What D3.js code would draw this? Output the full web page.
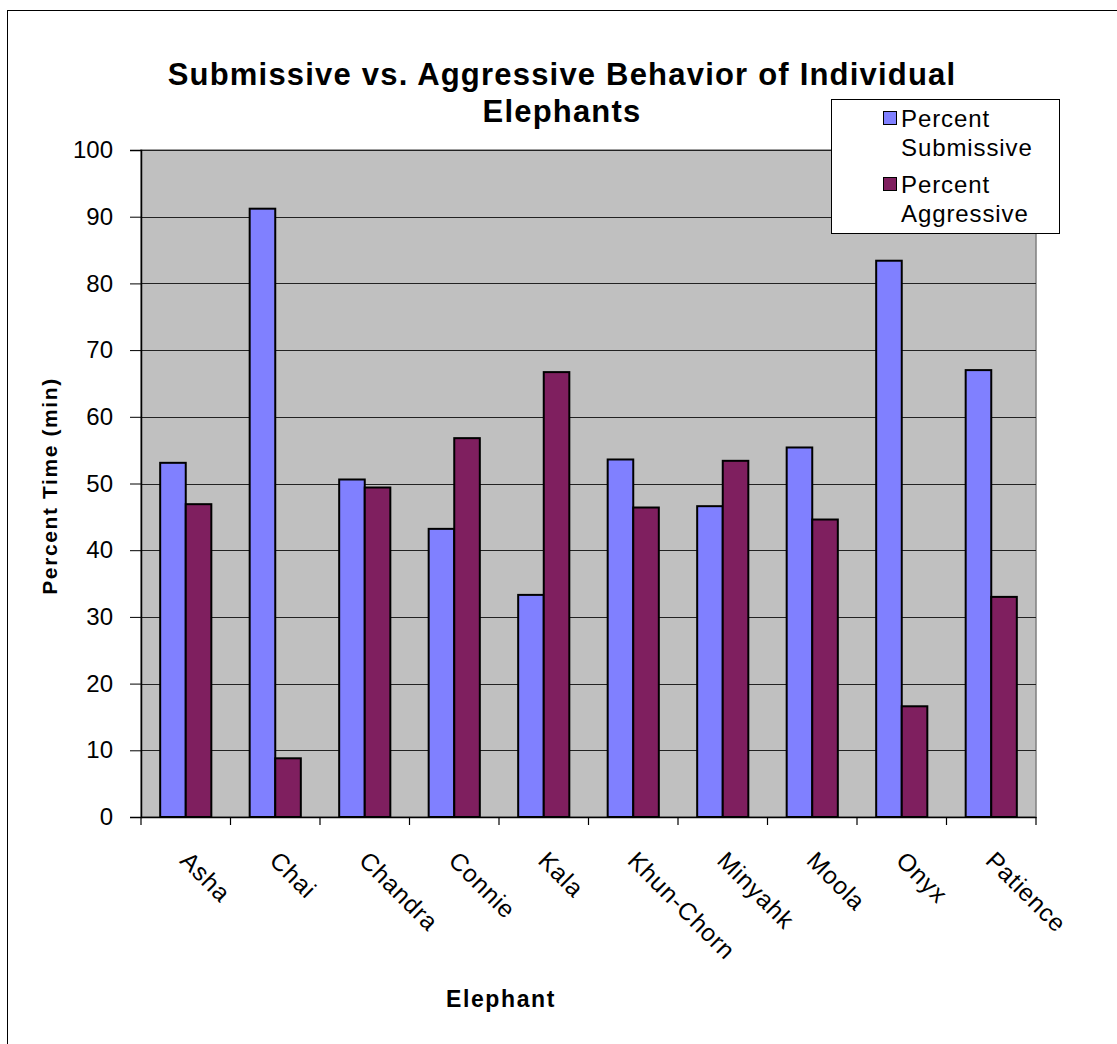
<!DOCTYPE html>
<html>
<head>
<meta charset="utf-8">
<script src="https://cdn.jsdelivr.net/npm/d3@7"></script>
<style>
  html, body { margin: 0; padding: 0; background: #fff; }
  svg { display: block; font-family: "Liberation Sans", Arial, sans-serif; }
</style>
</head>
<body>
<svg id="chart" width="1117" height="1044"></svg>
<script>
// Elephants observed and share of time in each behaviour
const elephants = ["Asha", "Chai", "Chandra", "Connie", "Kala", "Khun-Chorn", "Minyahk", "Moola", "Onyx", "Patience"];
const submissive = [53.1, 91.2, 50.6, 43.2, 33.3, 53.6, 46.6, 55.4, 83.4, 67.0];
const aggressive = [46.9, 8.8, 49.4, 56.8, 66.7, 46.4, 53.4, 44.6, 16.6, 33.0];
const seriesNames = ["Percent Submissive", "Percent Aggressive"];
const seriesColors = ["#8080FF", "#7F1F5F"];
const yTicks = [0, 10, 20, 30, 40, 50, 60, 70, 80, 90, 100];

const svg = d3.select("#chart");

// outer chart frame
svg.append("rect")
  .attr("x", 7.5).attr("y", 10.5)
  .attr("width", 1120).attr("height", 1045)
  .attr("fill", "#fff").attr("stroke", "#000").attr("stroke-width", 1);

const plot = { left: 141, right: 1036, top: 150, bottom: 817 };

const x = d3.scaleBand()
  .domain(elephants)
  .range([plot.left, plot.right])
  .paddingInner(0).paddingOuter(0);

// gap width 150%: two bars take 2/3.5 of the band
const barW = x.bandwidth() / 3.5;
const xs = d3.scaleBand().domain(seriesNames).range([0, 2 * barW]);

const y = d3.scaleLinear().domain([0, 100]).range([plot.bottom, plot.top]);

// plot background
svg.append("rect")
  .attr("x", plot.left).attr("y", plot.top)
  .attr("width", plot.right - plot.left).attr("height", plot.bottom - plot.top)
  .attr("fill", "#C0C0C0")
  .attr("stroke", "#808080").attr("stroke-width", 1.5);

// horizontal gridlines
svg.append("g")
  .selectAll("line")
  .data(yTicks.filter(d => d > 0))
  .join("line")
  .attr("x1", plot.left).attr("x2", plot.right)
  .attr("y1", d => Math.round(y(d)) + 0.5).attr("y2", d => Math.round(y(d)) + 0.5)
  .attr("stroke", "#222").attr("stroke-width", 1);

// bars
const rows = elephants.map((e, i) => ({ name: e, values: [submissive[i], aggressive[i]] }));
const groups = svg.append("g")
  .selectAll("g")
  .data(rows)
  .join("g")
  .attr("transform", d => `translate(${x(d.name) + (x.bandwidth() - 2 * barW) / 2},0)`);

groups.selectAll("rect")
  .data(d => d.values.map((v, k) => ({ v, k })))
  .join("rect")
  .attr("x", d => xs(seriesNames[d.k]))
  .attr("y", d => y(d.v))
  .attr("width", barW)
  .attr("height", d => y(0) - y(d.v))
  .attr("fill", d => seriesColors[d.k])
  .attr("stroke", "#000").attr("stroke-width", 2);

// y axis
const yAxis = d3.axisLeft(y).tickValues(yTicks).tickSize(11).tickPadding(17);
const gy = svg.append("g")
  .attr("transform", `translate(${plot.left},0)`)
  .call(yAxis);
gy.select(".domain").attr("stroke", "#000").attr("stroke-width", 1.5);
gy.selectAll(".tick line").attr("stroke", "#000");
gy.selectAll(".tick text")
  .attr("font-size", 24).attr("fill", "#000")
  .attr("font-family", "Liberation Sans, Arial, sans-serif");

// x axis
const xAxis = d3.axisBottom(x).tickSize(0).tickFormat("");
const gx = svg.append("g")
  .attr("transform", `translate(0,${plot.bottom})`)
  .call(xAxis);
gx.select(".domain").attr("stroke", "#000").attr("stroke-width", 1.5);
gx.selectAll(".tick").remove();

// category separator ticks
const sepPositions = elephants.map(e => x(e)).concat([plot.right]);
svg.append("g")
  .selectAll("line")
  .data(sepPositions)
  .join("line")
  .attr("x1", d => d).attr("x2", d => d)
  .attr("y1", plot.bottom).attr("y2", plot.bottom + 8)
  .attr("stroke", "#000").attr("stroke-width", 1.2);

// rotated category labels
svg.append("g")
  .selectAll("text")
  .data(elephants)
  .join("text")
  .attr("transform", d => `translate(${x(d) + x.bandwidth() / 2 - 7},${plot.bottom + 45}) rotate(45)`)
  .attr("text-anchor", "start")
  .attr("font-size", 24.5)
  .attr("letter-spacing", 0.8)
  .attr("fill", "#000")
  .text(d => d);

// title
const title = svg.append("text")
  .attr("text-anchor", "middle")
  .attr("font-size", 31).attr("font-weight", "bold")
  .attr("letter-spacing", 1.2).attr("fill", "#000");
title.append("tspan").attr("x", 562).attr("y", 85).text("Submissive vs. Aggressive Behavior of Individual");
title.append("tspan").attr("x", 562).attr("y", 122).text("Elephants");

// axis titles
svg.append("text")
  .attr("transform", `translate(57,486) rotate(-90)`)
  .attr("text-anchor", "middle")
  .attr("font-size", 21).attr("font-weight", "bold")
  .attr("letter-spacing", 1.6)
  .text("Percent Time (min)");

svg.append("text")
  .attr("x", 501).attr("y", 1007)
  .attr("text-anchor", "middle")
  .attr("font-size", 23).attr("font-weight", "bold")
  .attr("letter-spacing", 1.6)
  .text("Elephant");

// legend
const legend = svg.append("g").attr("transform", "translate(831,99)");
legend.append("rect")
  .attr("x", 0.5).attr("y", 0.5).attr("width", 228).attr("height", 134)
  .attr("fill", "#fff").attr("stroke", "#000").attr("stroke-width", 1);

const legendLines = [["Percent", "Submissive"], ["Percent", "Aggressive"]];
legendLines.forEach((lines, k) => {
  const base = 28 + k * 66;
  legend.append("rect")
    .attr("x", 52.5).attr("y", base - 15.5)
    .attr("width", 13).attr("height", 13)
    .attr("fill", seriesColors[k]).attr("stroke", "#000").attr("stroke-width", 1);
  const t = legend.append("text").attr("font-size", 24).attr("letter-spacing", 0.9).attr("fill", "#000");
  t.append("tspan").attr("x", 70).attr("y", base).text(lines[0]);
  t.append("tspan").attr("x", 70).attr("y", base + 29).text(lines[1]);
});
</script>
</body>
</html>
